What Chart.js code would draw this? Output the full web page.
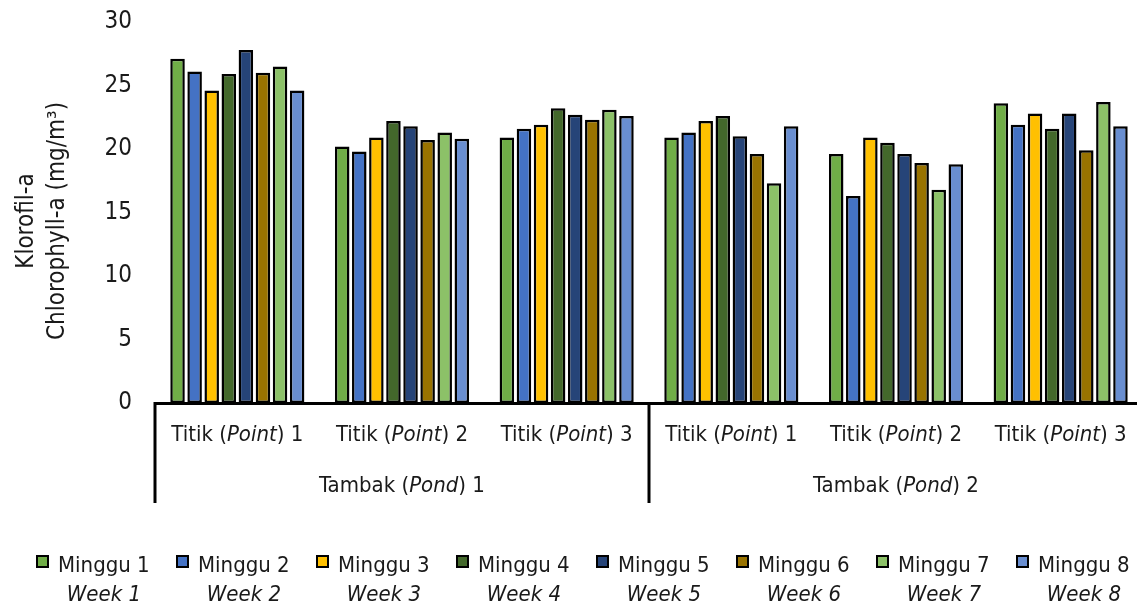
<!DOCTYPE html>
<html>
<head>
<meta charset="utf-8">
<script src="https://cdn.jsdelivr.net/npm/chart.js@4.4.1/dist/chart.umd.min.js"></script>
<style>
  html, body { margin: 0; padding: 0; background: #fff; overflow: hidden; }
  #wrap { width: 1145px; height: 610px; }
</style>
</head>
<body>
<div id="wrap"><canvas id="c" width="1145" height="610"></canvas></div>
<script>
// ---- data ----
const categories = ['Titik (Point) 1', 'Titik (Point) 2', 'Titik (Point) 3',
                    'Titik (Point) 1', 'Titik (Point) 2', 'Titik (Point) 3'];
const ponds = ['Tambak (Pond) 1', 'Tambak (Pond) 2'];
const weekLabelsId = ['Minggu 1', 'Minggu 2', 'Minggu 3', 'Minggu 4', 'Minggu 5', 'Minggu 6', 'Minggu 7', 'Minggu 8'];
const weekLabelsEn = ['Week 1', 'Week 2', 'Week 3', 'Week 4', 'Week 5', 'Week 6', 'Week 7', 'Week 8'];
const yTitle = ['Klorofil-a', 'Chlorophyll-a (mg/m³)'];
const yTicks = [0, 5, 10, 15, 20, 25, 30];

const week1 = [27.1, 20.2, 20.9, 20.9, 19.6, 23.6];
const week2 = [26.1, 19.8, 21.6, 21.3, 16.3, 21.9];
const week3 = [24.6, 20.9, 21.9, 22.2, 20.9, 22.8];
const week4 = [25.9, 22.2, 23.2, 22.6, 20.5, 21.6];
const week5 = [27.8, 21.8, 22.7, 21.0, 19.6, 22.8];
const week6 = [26.0, 20.7, 22.3, 19.6, 18.9, 19.9];
const week7 = [26.5, 21.3, 23.1, 17.3, 16.8, 23.7];
const week8 = [24.6, 20.8, 22.6, 21.8, 18.8, 21.8];

const series = [week1, week2, week3, week4, week5, week6, week7, week8];
const colors = ['#70AD47', '#4472C4', '#FFC000', '#43682B', '#264478', '#997300', '#8CC168', '#698ED0'];

const FONT = "'Liberation Sans Narrow', 'DejaVu Sans Condensed', 'Arial Narrow', sans-serif";
const TXT = '#1a1a1a';

// draw "A (B) C" with B italic, centered at x
function richText(ctx, str, cx, y, size) {
  const m = str.match(/^(.*\()(.*)(\).*)$/);
  const parts = m ? [[m[1], false], [m[2], true], [m[3], false]] : [[str, false]];
  let total = 0;
  const widths = parts.map(([t, it]) => {
    ctx.font = (it ? 'italic ' : '') + size + 'px ' + FONT;
    const w = ctx.measureText(t).width; total += w; return w;
  });
  let x = cx - total / 2;
  ctx.textAlign = 'left';
  parts.forEach(([t, it], i) => {
    ctx.font = (it ? 'italic ' : '') + size + 'px ' + FONT;
    ctx.fillText(t, x, y);
    x += widths[i];
  });
}

const decor = {
  id: 'decor',
  afterDraw(chart) {
    const ctx = chart.ctx;
    const xs = chart.scales.x;
    const ca = chart.chartArea;
    ctx.save();
    ctx.fillStyle = TXT;
    ctx.textBaseline = 'middle';
    // category labels
    categories.forEach((c, i) => {
      richText(ctx, c, xs.getPixelForValue(i), 435, 22);
    });
    // pond labels
    const per = categories.length / ponds.length;
    ponds.forEach((p, j) => {
      const a = xs.getPixelForValue(j * per), b = xs.getPixelForValue(j * per + per - 1);
      richText(ctx, p, (a + b) / 2, 486, 22);
    });
    // divider lines
    ctx.strokeStyle = '#000';
    ctx.lineWidth = 3;
    const step = xs.getPixelForValue(1) - xs.getPixelForValue(0);
    for (let j = 0; j <= ponds.length; j++) {
      const x = xs.getPixelForValue(j * per) - step / 2;
      ctx.beginPath();
      ctx.moveTo(x, ca.bottom - 1);
      ctx.lineTo(x, 503);
      ctx.stroke();
    }
    // y title
    ctx.save();
    ctx.translate(0, 221);
    ctx.rotate(-Math.PI / 2);
    ctx.textAlign = 'center';
    ctx.textBaseline = 'alphabetic';
    ctx.font = '24px ' + FONT;
    ctx.fillText(yTitle[0], 0, 33);
    ctx.fillText(yTitle[1], 0, 64);
    ctx.restore();
    // legend
    chart.data.datasets.forEach((ds, i) => {
      const tx = 58 + 140 * i;
      const bx = tx - 21;
      ctx.fillStyle = ds.backgroundColor;
      ctx.fillRect(bx, 556, 11, 11);
      ctx.strokeStyle = '#000';
      ctx.lineWidth = 2;
      ctx.strokeRect(bx, 556, 11, 11);
      ctx.fillStyle = TXT;
      ctx.textAlign = 'left';
      ctx.textBaseline = 'middle';
      ctx.font = '22px ' + FONT;
      ctx.fillText(weekLabelsId[i], tx, 566);
      const w = ctx.measureText(weekLabelsId[i]).width;
      ctx.font = 'italic 22px ' + FONT;
      ctx.textAlign = 'center';
      ctx.fillText(weekLabelsEn[i], tx + w / 2, 595);
    });
    ctx.restore();
  }
};

new Chart(document.getElementById('c'), {
  type: 'bar',
  data: {
    labels: categories,
    datasets: series.map((d, i) => ({
      label: weekLabelsId[i],
      data: d,
      backgroundColor: colors[i],
      borderColor: '#000',
      borderWidth: 2.5,
      borderSkipped: false,
      categoryPercentage: 0.83,
      barPercentage: 0.85
    }))
  },
  options: {
    responsive: false,
    animation: false,
    layout: { padding: { top: 22, right: 2, bottom: 0, left: 0 } },
    plugins: { legend: { display: false }, tooltip: { enabled: false } },
    scales: {
      x: {
        grid: { display: false },
        ticks: { display: false },
        border: { display: true, color: '#000', width: 3 },
        afterFit(s) { s.height = 207; }
      },
      y: {
        min: yTicks[0], max: yTicks[yTicks.length - 1],
        grid: { display: false },
        border: { display: false },
        ticks: { stepSize: yTicks[1] - yTicks[0], padding: 15, color: TXT, font: { size: 24, family: FONT } },
        afterFit(s) { s.width = 155; s.paddingTop = 0; s.paddingBottom = 0; }
      }
    }
  },
  plugins: [decor]
});
</script>
</body>
</html>
